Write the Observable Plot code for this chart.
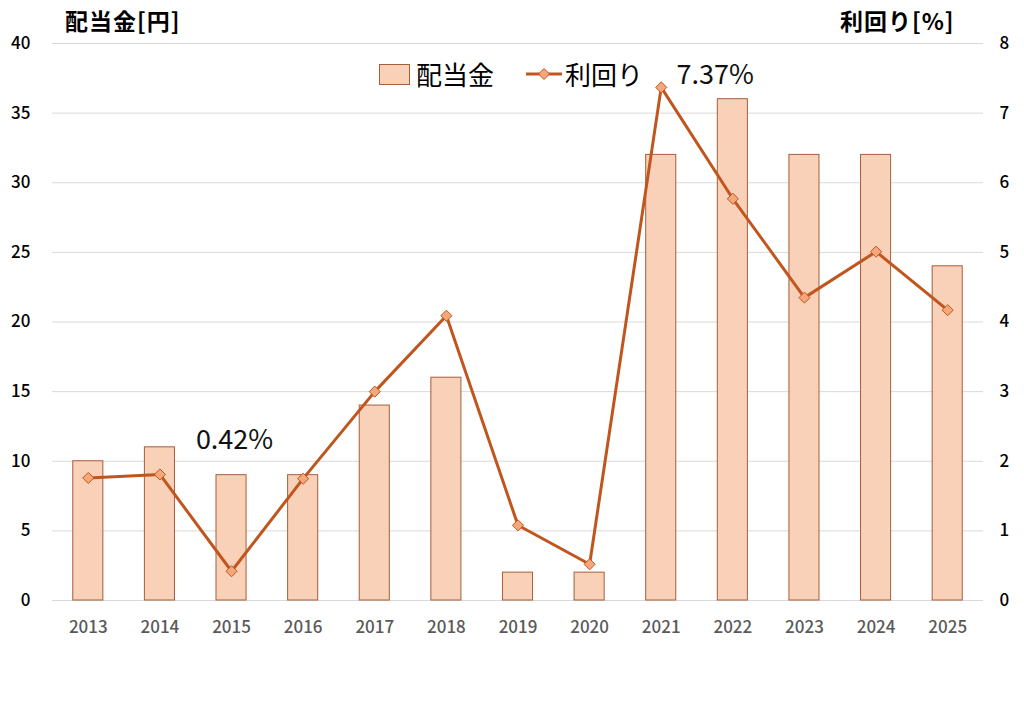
<!DOCTYPE html>
<html>
<head>
<meta charset="utf-8">
<script src="https://cdn.jsdelivr.net/npm/d3@7"></script>
<script src="https://cdn.jsdelivr.net/npm/@observablehq/plot@0.6"></script>
<style>
  html, body { margin: 0; padding: 0; background: #fff; }
  #wrap { position: relative; width: 1024px; height: 705px; font-family: "Noto Sans CJK JP", "Noto Sans", sans-serif; }
  .ttl { position: absolute; font-weight: bold; font-size: 23px; color: #000; line-height: 1; letter-spacing: 1px; }
  .leg { position: absolute; font-size: 26px; color: #000; line-height: 1; display: flex; align-items: center; }
</style>
</head>
<body>
<div id="wrap">
  <div id="chart"></div>
  <div class="ttl" style="left:65px; top:9px;">配当金[円]</div>
  <div class="ttl" style="left:840px; top:9px;">利回り[%]</div>
  <div class="leg" style="left:379px; top:61px;">
    <svg width="32" height="24" style="margin-right:5px"><rect x="0.5" y="2.5" width="30" height="20" fill="#f9d0b8" stroke="#a65e3a" stroke-width="1"/></svg>
    <span>配当金</span>
    <svg width="36" height="24" style="margin-left:32px; margin-right:3px"><line x1="0" y1="12" x2="36" y2="12" stroke="#c0561e" stroke-width="3"/><path d="M18,6.5 L23.5,12 L18,17.5 L12.5,12 Z" fill="#f4a77a" stroke="#c0561e" stroke-width="1"/></svg>
    <span>利回り</span>
  </div>
</div>
<script>
const years = ["2013","2014","2015","2016","2017","2018","2019","2020","2021","2022","2023","2024","2025"];
const dividends = [10, 11, 9, 9, 14, 16, 2, 2, 32, 36, 32, 32, 24];
const yields = [1.76, 1.81, 0.42, 1.75, 3.00, 4.09, 1.08, 0.52, 7.37, 5.77, 4.35, 5.01, 4.17];
const leftTicks = [0, 5, 10, 15, 20, 25, 30, 35, 40];
const rightTicks = [0, 1, 2, 3, 4, 5, 6, 7, 8];
const annotations = [
  {year: "2015", value: 0.42, label: "0.42%"},
  {year: "2021", value: 7.37, label: "7.37%"}
];
const annotationOffsets = [[3, -131], [54, -12]];
const ratio = 40 / 8;

const data = years.map((y, i) => ({year: y, dividend: dividends[i], yld: yields[i]}));

const chart = Plot.plot({
  width: 1024,
  height: 705,
  marginTop: 43,
  marginBottom: 105,
  marginLeft: 52,
  marginRight: 41,
  style: {fontFamily: '"Noto Sans CJK JP", "Noto Sans", sans-serif', background: "#fff"},
  x: {domain: years, paddingInner: 0.58, paddingOuter: 0.29, round: false, label: null},
  y: {domain: [0, 40], label: null},
  marks: [
    Plot.gridY(leftTicks, {stroke: "#d9d9d9", strokeOpacity: 1, strokeWidth: 1}),
    Plot.axisX({tickSize: 0, tickPadding: 20, fontSize: 17, fill: "#595959", fontWeight: 500, label: null}),
    Plot.axisY({ticks: leftTicks, anchor: "left", tickSize: 0, tickPadding: 22, fontSize: 17, fill: "#000", fontWeight: 500, label: null}),
    Plot.axisY({ticks: rightTicks.map(t => t * ratio), tickFormat: d => String(d / ratio), anchor: "right", tickSize: 0, tickPadding: 16, fontSize: 17, fill: "#000", fontWeight: 500, label: null}),
    Plot.barY(data, {x: "year", y: "dividend", fill: "#f9d0b8", stroke: "#a65e3a", strokeWidth: 1}),
    Plot.line(data, {x: "year", y: d => d.yld * ratio, stroke: "#c0561e", strokeWidth: 3}),
    Plot.dot(data, {x: "year", y: d => d.yld * ratio, symbol: "diamond2", r: 5, fill: "#f4a77a", stroke: "#c0561e", strokeWidth: 1}),
    ...annotations.map((a, i) => Plot.text([a], {x: "year", y: d => d.value * ratio, text: "label", dx: annotationOffsets[i][0], dy: annotationOffsets[i][1], fontSize: 27, fill: "#111", textAnchor: "middle"}))
  ]
});
document.getElementById("chart").appendChild(chart);
</script>
</body>
</html>
